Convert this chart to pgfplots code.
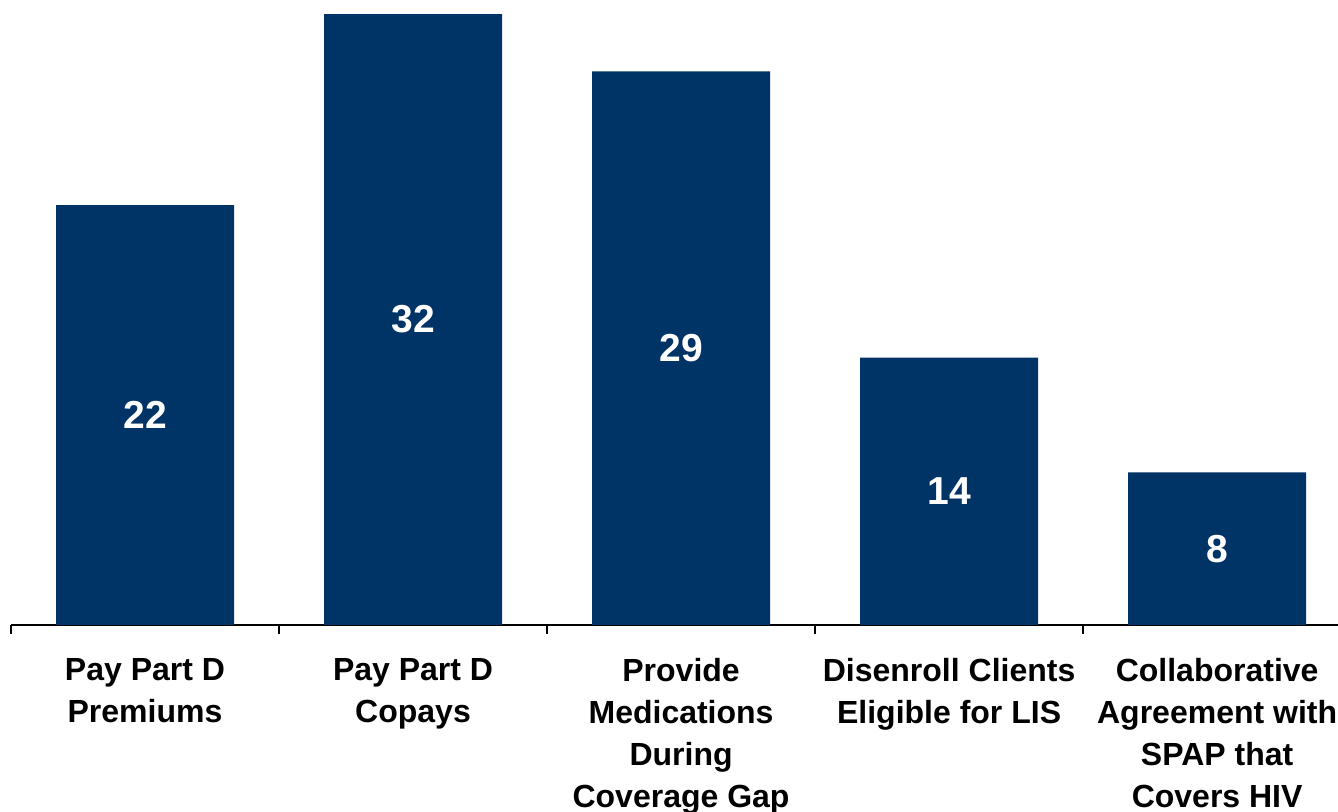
\documentclass[border=0pt]{standalone}
\usepackage{pgfplots}
\usepackage{pgfplotstable}
\pgfplotsset{compat=1.18}
\usepackage{fontspec}
\setmainfont{Liberation Sans}
\definecolor{navy}{RGB}{0,51,102}

\pgfplotstableread{
x y
0 22
1 32
2 29
3 14
4 8
}\services

\begin{document}
\begin{tikzpicture}
\begin{axis}[
    at={(0,0)}, anchor=south west,
    scale only axis,
    width=663.5pt, height=312.5pt,
    xmin=-0.5, xmax=4.451,
    ymin=0, ymax=32.74,
    hide y axis,
    axis x line*=bottom,
    axis line style={line width=1pt, black},
    xtick={0,1,2,3,4},
    major x tick style={draw=none},
    minor xtick={-0.5,0.5,1.5,2.5,3.5},
    minor x tick style={line width=1pt, black},
    minor tick length=4.5pt,
    xtick align=outside,
    xticklabels={
        {Pay Part D\\Premiums},
        {Pay Part D\\Copays},
        {Provide\\Medications\\During\\Coverage Gap},
        {Disenroll Clients\\Eligible for LIS},
        {Collaborative\\Agreement with\\SPAP that\\Covers HIV}},
    xticklabel style={align=center, font=\fontsize{16}{21}\selectfont\bfseries,
        anchor=north, yshift=-9pt},
    /pgf/number format/assume math mode=true,
    clip=false,
]
\addplot[ybar, bar width=89pt, fill=navy, draw=none] table[x=x, y=y] {\services};
\addplot[only marks, mark=none, nodes near coords, point meta=\thisrow{y},
    every node near coord/.style={anchor=center, text=white,
        font=\fontsize{19.5}{23}\selectfont\bfseries}]
    table[x=x, y expr=\thisrow{y}/2] {\services};
\end{axis}
\pgfresetboundingbox
\path[use as bounding box] (-5.5pt,-93.5pt) rectangle (663.5pt,312.5pt);
\end{tikzpicture}
\end{document}
